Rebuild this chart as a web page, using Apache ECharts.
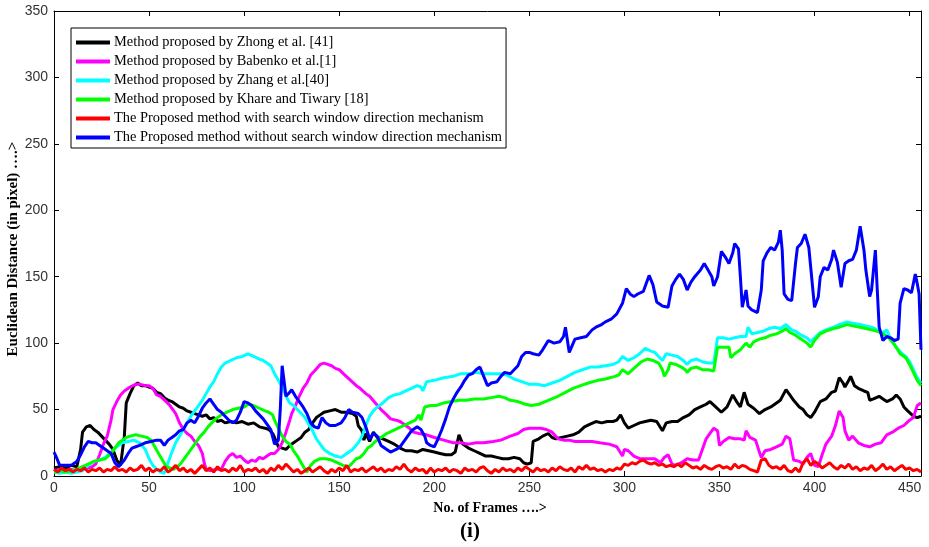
<!DOCTYPE html>
<html><head><meta charset="utf-8">
<script src="https://cdn.jsdelivr.net/npm/echarts@6/dist/echarts.min.js"></script>
<style>html,body{margin:0;padding:0;background:#fff}#c{width:929px;height:547px}</style>
</head><body><div id="c"></div>
<script>
const seriesNames = [
  'Method proposed by Zhong et al. [41]',
  'Method proposed by Babenko et al.[1]',
  'Method proposed by Zhang et al.[40]',
  'Method proposed by Khare and Tiwary [18]',
  'The Proposed method with search window direction mechanism',
  'The Proposed method without search window direction mechanism'
];
const xTicks = [0,50,100,150,200,250,300,350,400,450];
const yTicks = [0,50,100,150,200,250,300,350];

const zhong = [[0,6],[3,7],[6,6],[9,8],[12,7],[14,20],[15,33],[17,37],[19,38],[21,35],[23,33],[25,30],[27,27],[29,24],[31,20],[33,12],[35,8],[36,7],[37,30],[38,55],[40,62],[42,68],[44,70],[46,68],[48,68],[50,67],[52,66],[54,63],[56,62],[58,59],[60,57],[62,56],[64,54],[66,52],[68,51],[70,49],[72,48],[74,47],[76,46],[78,45],[80,46],[82,43],[84,44],[86,41],[88,42],[90,40],[93,41],[96,40],[99,41],[102,39],[105,40],[108,37],[111,36],[113,35],[115,32],[116,29],[118,22],[120,21],[122,20],[124,23],[126,25],[128,27],[130,29],[132,33],[134,35],[136,40],[138,44],[140,46],[142,48],[145,49],[148,50],[151,48],[154,48],[157,47],[159,45],[160,38],[162,34],[163,27],[164,32],[166,26],[168,33],[170,29],[173,28],[176,26],[179,24],[182,21],[185,19],[188,19],[191,18],[194,20],[197,19],[200,18],[203,17],[206,16],[209,16],[211,18],[213,31],[215,24],[218,21],[221,19],[224,17],[227,15],[230,15],[233,14],[236,13],[239,13],[242,14],[245,13],[247,10],[249,9],[251,10],[252,26],[255,28],[257,30],[260,32],[262,29],[264,28],[267,29],[270,30],[273,31],[276,33],[279,37],[282,39],[285,41],[288,40],[291,41],[294,41],[296,42],[298,46],[300,40],[302,36],[305,38],[308,40],[311,41],[314,42],[317,41],[320,34],[322,40],[325,41],[328,41],[331,44],[334,46],[337,50],[340,52],[343,54],[345,56],[348,52],[351,48],[354,52],[357,61],[359,56],[361,52],[363,63],[365,54],[368,51],[371,47],[374,50],[377,52],[380,55],[382,57],[385,65],[387,61],[389,57],[392,52],[394,50],[396,46],[398,44],[400,48],[403,56],[406,58],[409,63],[411,64],[413,74],[415,70],[416,67],[418,72],[419,75],[421,68],[423,66],[426,64],[428,63],[429,57],[431,58],[434,60],[436,58],[438,56],[441,58],[443,61],[445,58],[447,52],[449,49],[452,45],[454,44],[456,45]];

const babenko = [[0,4],[3,5],[6,4],[9,5],[12,4],[15,5],[18,6],[20,7],[22,9],[24,16],[26,24],[28,30],[30,42],[31,50],[33,56],[35,61],[37,64],[40,67],[43,69],[45,69],[48,68],[50,68],[52,66],[54,61],[56,60],[59,56],[61,53],[63,49],[64,47],[66,40],[68,35],[70,32],[72,30],[74,26],[76,23],[78,17],[79,10],[80,5],[82,4],[85,5],[88,5],[90,11],[92,15],[94,17],[96,14],[98,15],[100,12],[102,10],[104,12],[106,11],[108,14],[110,13],[112,15],[114,17],[116,17],[118,20],[120,25],[122,33],[124,42],[125,47],[127,53],[129,60],[131,66],[133,70],[135,76],[137,79],[140,84],[142,85],[144,84],[146,83],[148,81],[150,80],[153,76],[156,72],[159,68],[161,66],[164,62],[166,60],[169,55],[172,50],[175,46],[177,43],[180,42],[182,41],[185,38],[187,36],[189,33],[192,32],[196,31],[200,29],[205,27],[210,25],[214,25],[218,24],[222,25],[226,25],[231,26],[235,27],[240,30],[244,32],[247,35],[250,36],[253,36],[256,36],[259,35],[262,33],[265,28],[268,27],[271,27],[274,26],[278,26],[283,26],[287,25],[292,24],[296,22],[299,15],[300,20],[302,19],[305,15],[308,13],[312,13],[316,13],[319,10],[321,14],[323,16],[325,9],[327,8],[330,10],[333,13],[336,12],[339,12],[341,20],[343,28],[345,32],[347,36],[349,34],[350,23],[352,26],[355,29],[358,28],[361,28],[363,27],[364,34],[366,29],[369,27],[371,18],[372,14],[374,19],[377,20],[380,22],[383,24],[385,30],[387,28],[389,12],[392,11],[394,9],[396,14],[398,17],[400,8],[402,7],[404,16],[406,24],[409,30],[411,38],[413,49],[415,44],[416,34],[418,27],[420,30],[423,25],[426,23],[429,22],[432,24],[435,25],[438,31],[441,33],[444,36],[447,38],[450,42],[452,44],[454,53],[456,55]];

const zhang = [[0,3],[3,2],[6,3],[9,2],[12,3],[15,4],[18,8],[21,11],[24,12],[27,14],[30,18],[33,22],[36,25],[39,26],[42,27],[45,25],[48,20],[50,13],[52,8],[54,5],[56,3],[58,2],[60,10],[62,18],[64,25],[66,30],[68,35],[70,40],[72,45],[74,49],[76,53],[78,57],[80,62],[82,67],[84,71],[86,77],[88,82],[90,85],[93,87],[96,89],[99,90],[102,92],[105,90],[108,88],[110,87],[112,85],[114,83],[116,77],[118,72],[120,67],[122,60],[124,55],[126,53],[128,50],[130,47],[132,44],[134,39],[136,34],[138,28],[140,24],[142,20],[145,17],[148,15],[151,14],[154,17],[157,20],[160,25],[162,30],[164,38],[166,45],[168,49],[170,52],[173,55],[176,59],[179,61],[182,62],[185,64],[188,66],[191,68],[193,67],[194,64],[196,71],[200,72],[205,74],[210,75],[214,77],[218,77],[222,78],[226,77],[231,77],[235,77],[238,76],[242,73],[246,71],[250,69],[254,69],[258,68],[262,70],[266,72],[270,75],[274,78],[278,80],[282,82],[286,82],[290,83],[294,84],[297,86],[299,90],[302,87],[305,89],[308,92],[311,96],[314,94],[316,93],[318,90],[320,87],[322,92],[325,91],[328,90],[331,87],[333,84],[335,87],[338,88],[341,86],[344,85],[347,85],[349,104],[352,104],[355,103],[358,104],[361,105],[364,105],[365,112],[367,107],[370,108],[373,109],[376,111],[379,112],[382,111],[385,114],[388,110],[390,109],[393,106],[396,104],[398,101],[400,104],[403,108],[406,110],[410,112],[413,114],[417,116],[420,115],[424,114],[427,113],[430,112],[433,110],[436,108],[438,110],[440,103],[443,97],[446,92],[448,90],[450,86],[452,80],[454,74],[456,70]];

const khare = [[0,3],[3,4],[6,3],[9,4],[12,5],[15,7],[18,9],[21,11],[24,12],[27,13],[30,17],[32,21],[34,25],[36,27],[38,29],[40,30],[43,31],[46,30],[49,29],[51,27],[53,22],[55,17],[57,12],[59,7],[61,6],[63,5],[65,7],[67,10],[69,14],[71,18],[73,22],[75,26],[77,30],[79,33],[81,37],[83,40],[85,43],[88,46],[91,48],[94,50],[97,51],[100,52],[102,54],[105,53],[108,51],[111,49],[113,48],[115,46],[116,42],[118,36],[120,30],[122,26],[124,24],[126,19],[128,15],[130,10],[132,5],[133,3],[135,8],[137,11],[140,13],[143,13],[146,12],[149,10],[152,8],[155,7],[157,10],[159,13],[161,14],[163,17],[165,21],[167,23],[169,26],[172,29],[175,32],[178,34],[181,36],[184,38],[187,40],[190,42],[192,46],[193,42],[195,52],[198,53],[201,53],[205,55],[209,56],[213,57],[217,57],[221,58],[226,58],[230,59],[234,60],[237,59],[240,57],[244,56],[248,54],[251,53],[255,54],[260,57],[265,60],[269,63],[273,66],[277,68],[281,70],[286,72],[290,73],[295,75],[297,76],[299,80],[302,77],[305,81],[309,86],[312,88],[315,87],[318,85],[320,80],[321,75],[323,80],[324,85],[327,84],[330,82],[332,80],[333,78],[335,81],[338,82],[341,80],[344,80],[347,79],[349,97],[352,97],[355,97],[356,89],[358,92],[361,95],[364,100],[366,97],[368,101],[371,103],[374,104],[377,106],[380,107],[383,109],[385,111],[387,108],[390,106],[393,103],[396,100],[398,97],[400,102],[403,107],[406,109],[410,111],[413,112],[417,114],[420,113],[424,112],[427,111],[430,110],[433,109],[436,107],[439,104],[442,99],[445,92],[448,89],[450,84],[452,78],[454,72],[456,68]];

const withDir = [[0,5],[2,3],[4,6],[6,4],[8,5],[10,3],[12,5],[14,4],[16,6],[18,3],[20,5],[22,4],[24,6],[26,3],[28,5],[30,4],[32,7],[34,4],[36,5],[38,3],[40,6],[42,4],[44,5],[46,8],[48,4],[50,6],[52,3],[54,5],[56,4],[58,7],[60,3],[62,5],[64,8],[66,4],[68,6],[70,3],[72,5],[74,2],[76,5],[78,8],[80,4],[82,6],[84,3],[86,7],[88,4],[90,5],[92,3],[94,6],[96,4],[98,8],[100,3],[102,5],[104,4],[106,6],[108,3],[110,5],[112,2],[114,6],[116,4],[118,8],[120,5],[122,9],[124,6],[126,3],[128,5],[130,2],[132,4],[134,6],[136,3],[138,5],[140,7],[142,4],[144,2],[146,5],[148,3],[150,6],[152,4],[154,8],[156,3],[158,5],[160,4],[162,6],[164,3],[166,5],[168,7],[170,4],[172,6],[174,3],[176,5],[178,4],[180,7],[182,5],[184,9],[186,5],[188,3],[190,6],[192,4],[194,5],[196,2],[198,6],[200,3],[202,5],[204,4],[206,6],[208,3],[210,5],[212,4],[214,2],[216,6],[218,4],[220,5],[222,3],[224,6],[226,7],[228,4],[230,2],[232,5],[234,3],[236,6],[238,4],[240,5],[242,3],[244,6],[246,4],[248,7],[250,5],[252,3],[254,6],[256,4],[258,5],[260,3],[262,6],[264,4],[266,7],[268,5],[270,4],[272,6],[274,3],[276,7],[278,5],[280,8],[282,5],[284,6],[286,4],[288,5],[290,3],[292,5],[294,4],[296,6],[298,5],[300,9],[302,8],[304,10],[306,9],[308,11],[310,12],[312,10],[314,9],[316,10],[318,8],[320,9],[322,7],[324,8],[326,7],[328,9],[330,7],[332,10],[334,8],[336,6],[338,7],[340,5],[342,8],[344,6],[346,5],[348,7],[350,8],[352,6],[354,7],[356,5],[358,9],[360,6],[362,8],[364,7],[366,5],[368,4],[370,3],[372,12],[374,13],[376,8],[378,6],[380,7],[382,5],[384,8],[386,4],[388,3],[390,6],[392,3],[394,10],[396,13],[398,8],[400,11],[402,9],[404,6],[406,8],[408,10],[410,7],[412,5],[414,8],[416,6],[418,9],[420,5],[422,7],[424,4],[426,6],[428,5],[430,8],[432,4],[434,6],[436,9],[438,5],[440,7],[442,4],[444,6],[446,8],[448,5],[450,6],[452,4],[454,5],[456,3]];

const withoutDir = [[0,18],[1,15],[3,8],[6,8],[9,8],[12,11],[14,16],[16,22],[18,26],[20,25],[22,25],[24,23],[26,21],[28,19],[30,17],[32,10],[34,7],[35,6],[37,12],[39,17],[41,21],[43,22],[45,23],[48,25],[51,26],[54,27],[56,27],[58,23],[60,27],[62,29],[64,31],[66,34],[68,35],[70,40],[72,42],[74,40],[76,45],[78,51],[80,55],[82,58],[84,54],[86,50],[88,48],[90,45],[92,42],[94,40],[96,42],[98,48],[100,56],[102,55],[104,53],[106,49],[108,46],[110,43],[112,39],[114,35],[116,24],[118,27],[119,50],[120,83],[121,82],[122,60],[124,63],[125,65],[127,60],[129,56],[131,52],[133,47],[135,40],[137,37],[139,36],[141,44],[143,40],[145,38],[148,38],[151,40],[153,44],[155,50],[157,48],[160,47],[162,44],[164,37],[166,28],[168,32],[170,30],[172,23],[175,20],[177,18],[180,20],[182,22],[185,28],[188,34],[191,37],[193,35],[195,30],[196,25],[198,23],[200,22],[202,28],[204,35],[206,43],[208,52],[210,58],[212,63],[214,67],[216,72],[218,76],[220,77],[222,80],[224,82],[226,75],[228,68],[230,70],[233,71],[235,75],[237,78],[240,77],[242,80],[244,83],[246,90],[248,93],[250,93],[252,92],[255,91],[257,95],[260,102],[263,100],[266,101],[268,105],[269,112],[271,93],[274,103],[277,104],[280,105],[283,110],[285,112],[288,114],[290,116],[293,118],[296,122],[299,130],[301,141],[303,137],[305,135],[307,137],[310,139],[313,151],[315,144],[317,131],[320,128],[323,127],[325,143],[327,148],[329,152],[331,148],[333,140],[335,146],[337,150],[340,155],[342,160],[344,155],[346,150],[347,143],[349,150],[351,169],[353,165],[355,160],[357,168],[358,175],[360,171],[361,150],[362,127],[364,140],[365,128],[367,125],[370,123],[372,140],[373,162],[375,168],[377,172],[379,170],[381,176],[382,185],[383,170],[384,137],[386,133],[388,132],[390,160],[391,172],[393,175],[395,182],[397,172],[398,157],[400,127],[402,135],[403,150],[405,157],[407,155],[409,163],[410,170],[412,161],[414,142],[416,160],[418,162],[420,163],[422,170],[424,188],[426,170],[427,155],[429,135],[430,140],[432,170],[433,140],[434,112],[436,102],[438,105],[440,104],[442,102],[444,103],[445,130],[447,141],[449,140],[451,138],[453,152],[454,145],[455,137],[456,95]];

const seriesData = [zhong, babenko, zhang, khare, withDir, withoutDir];
const colors = ['#000000','#ff00ff','#00ffff','#00ff00','#ff0000','#0000ff'];

const chart = echarts.init(document.getElementById('c'), null, {renderer:'canvas'});
const xMin = xTicks[0], xMax = 456, yMin = yTicks[0], yMax = yTicks[yTicks.length-1];
const axisCommon = {
  axisLine:{show:true,onZero:false,lineStyle:{color:'#000',width:1}},
  axisTick:{show:true,inside:true,length:5,lineStyle:{color:'#000'}},
  splitLine:{show:false}
};
const xLabel = {color:'#333',fontFamily:'Liberation Sans, Arial, sans-serif',fontSize:14,margin:5,
  formatter:v=> xTicks.indexOf(v)>=0 ? String(v) : ''};
const yLabel = {color:'#333',fontFamily:'Liberation Sans, Arial, sans-serif',fontSize:14,margin:6,
  formatter:v=> yTicks.indexOf(v)>=0 ? String(v) : ''};

chart.setOption({
  animation:false,
  backgroundColor:'#fff',
  color: colors,
  grid:{left:54,right:8,top:11,bottom:71,containLabel:false},
  xAxis:[
    Object.assign({type:'value',position:'bottom',min:xMin,max:xMax,interval:50,axisLabel:xLabel},axisCommon),
    Object.assign({type:'value',position:'top',min:xMin,max:xMax,interval:50,axisLabel:{show:false}},axisCommon)
  ],
  yAxis:[
    Object.assign({type:'value',position:'left',min:yMin,max:yMax,interval:50,axisLabel:yLabel},axisCommon),
    Object.assign({type:'value',position:'right',min:yMin,max:yMax,interval:50,axisLabel:{show:false}},axisCommon)
  ],
  legend:{
    orient:'vertical',left:71,top:28,
    icon:'rect',itemWidth:34,itemHeight:4,itemGap:0,
    padding:[5,4,1,5],
    borderColor:'#000',borderWidth:1,backgroundColor:'#fff',
    textStyle:{fontFamily:'Liberation Serif, Times New Roman, serif',fontSize:14.4,color:'#000',lineHeight:19,padding:[0,0,0,-1]},
    data: seriesNames
  },
  graphic:[
    {type:'text',x:490,y:508,style:{text:'No. of Frames ….>',font:'bold 14px "Liberation Serif", serif',fill:'#000',align:'center',verticalAlign:'middle'}},
    {type:'text',x:470,y:532,style:{text:'(i)',font:'bold 21px "Liberation Serif", serif',fill:'#000',align:'center',verticalAlign:'middle'}},
    {type:'text',x:13,y:249,rotation:Math.PI/2,style:{text:'Euclidean Distance (in pixel) ….>',font:'bold 15px "Liberation Serif", serif',fill:'#000',align:'center',verticalAlign:'middle'}}
  ],
  series: seriesData.map((d,i)=>({
    name: seriesNames[i], type:'line', data:d, showSymbol:false, symbol:'none',
    lineStyle:{color:colors[i],width:3}, itemStyle:{color:colors[i]},
    xAxisIndex:0, yAxisIndex:0, z: 2+i
  }))
});
</script></body></html>
